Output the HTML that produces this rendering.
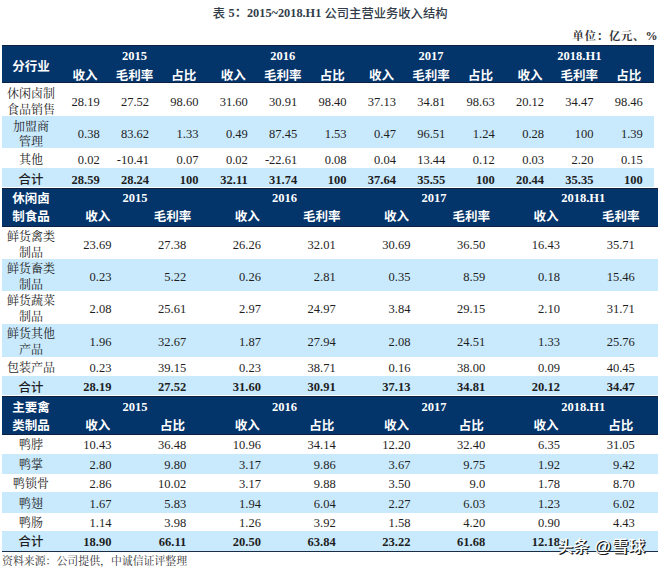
<!DOCTYPE html>
<html><head><meta charset="utf-8"><title>表5</title><style>
html,body{margin:0;padding:0;background:#fff;}
body{width:660px;height:569px;position:relative;overflow:hidden;}
.b{position:absolute;}
.t{position:absolute;white-space:nowrap;color:#1e1e1e;}
.title{font-family:"Liberation Serif","Noto Sans CJK SC",sans-serif;font-size:12.3px;font-weight:500;color:#333d4a;}
.title.tb{font-weight:bold;font-size:12.3px;}
.unit{font-family:"Liberation Serif","Noto Serif CJK SC",serif;font-size:11.3px;letter-spacing:0.8px;font-weight:bold;color:#333;}
.unit.pc{font-size:12px;letter-spacing:0;}
.hy{font-family:"Liberation Serif",serif;font-weight:bold;font-size:12.5px;color:#fff;}
.hl{font-family:"Liberation Serif","Noto Sans CJK SC",sans-serif;font-weight:bold;font-size:12.5px;color:#fff;}
.lab{font-family:"Liberation Serif", "Noto Serif CJK SC", serif;font-size:12px;font-weight:400;}
.labb{font-family:"Liberation Serif","Noto Sans CJK SC",sans-serif;font-weight:500;font-size:12.4px;}
.num{font-family:"Liberation Serif", "Noto Serif CJK SC", serif;font-size:12.5px;}
.numb{font-family:"Liberation Serif", "Noto Serif CJK SC", serif;font-size:12.5px;font-weight:bold;}
.src{font-family:"Liberation Serif", "Noto Serif CJK SC", serif;font-size:10.9px;color:#333;}
.wm{position:absolute;left:557px;top:536px;font-family:"Liberation Sans","Noto Sans CJK SC",sans-serif;font-size:16px;line-height:20px;color:#fff;white-space:nowrap;
font-weight:500;text-shadow:1px 1px 0 #1a1a1a, 1.4px 1.4px 0.4px #444;letter-spacing:0.2px;}
.wm .at{font-family:"Liberation Sans",sans-serif;font-size:17px;}
.wm .xq{letter-spacing:0.2px;font-size:16.4px;margin-left:0.5px;}
</style></head>
<body>
<div class="t title" style="left:212.80px;top:5.70px;width:20px;line-height:16px;text-align:left">表</div>
<div class="t title tb" style="left:228.50px;top:5.00px;width:100px;line-height:16px;text-align:left">5：2015~2018.H1</div>
<div class="t title" style="left:324.50px;top:5.70px;width:130px;line-height:16px;text-align:left">公司主营业务收入结构</div>
<div class="t unit" style="left:572.60px;top:27.60px;width:80px;line-height:16px;text-align:left">单位：亿元、</div>
<div class="t unit pc" style="left:637.60px;top:27.60px;width:20px;line-height:16px;text-align:right">%</div>
<div class="b" style="left:2px;top:45px;width:651.5px;height:38px;background:#03346a"></div>
<div class="b" style="left:2px;top:45px;width:651.5px;height:1px;background:#0d2142"></div>
<div class="b" style="left:2px;top:82px;width:651.5px;height:1px;background:#0d2142"></div>
<div class="t hy" style="left:74.45px;top:47.90px;width:120px;line-height:16px;text-align:center">2015</div>
<div class="t hl" style="left:25.02px;top:67.70px;width:120px;line-height:16px;text-align:center">收入</div>
<div class="t hl" style="left:74.45px;top:67.70px;width:120px;line-height:16px;text-align:center">毛利率</div>
<div class="t hl" style="left:123.88px;top:67.70px;width:120px;line-height:16px;text-align:center">占比</div>
<div class="t hy" style="left:222.75px;top:47.90px;width:120px;line-height:16px;text-align:center">2016</div>
<div class="t hl" style="left:173.32px;top:67.70px;width:120px;line-height:16px;text-align:center">收入</div>
<div class="t hl" style="left:222.75px;top:67.70px;width:120px;line-height:16px;text-align:center">毛利率</div>
<div class="t hl" style="left:272.18px;top:67.70px;width:120px;line-height:16px;text-align:center">占比</div>
<div class="t hy" style="left:371.05px;top:47.90px;width:120px;line-height:16px;text-align:center">2017</div>
<div class="t hl" style="left:321.62px;top:67.70px;width:120px;line-height:16px;text-align:center">收入</div>
<div class="t hl" style="left:371.05px;top:67.70px;width:120px;line-height:16px;text-align:center">毛利率</div>
<div class="t hl" style="left:420.48px;top:67.70px;width:120px;line-height:16px;text-align:center">占比</div>
<div class="t hy" style="left:519.35px;top:47.90px;width:120px;line-height:16px;text-align:center">2018.H1</div>
<div class="t hl" style="left:469.92px;top:67.70px;width:120px;line-height:16px;text-align:center">收入</div>
<div class="t hl" style="left:519.35px;top:67.70px;width:120px;line-height:16px;text-align:center">毛利率</div>
<div class="t hl" style="left:568.78px;top:67.70px;width:120px;line-height:16px;text-align:center">占比</div>
<div class="t hl" style="left:-29.00px;top:59.20px;width:120px;line-height:16px;text-align:center">分行业</div>
<div class="t lab" style="left:-29.00px;top:85.90px;width:120px;line-height:16px;text-align:center">休闲卤制</div>
<div class="t lab" style="left:-29.00px;top:101.70px;width:120px;line-height:16px;text-align:center">食品销售</div>
<div class="t num" style="left:39.70px;top:93.60px;width:60px;line-height:16px;text-align:right">28.19</div>
<div class="t num" style="left:89.07px;top:93.60px;width:60px;line-height:16px;text-align:right">27.52</div>
<div class="t num" style="left:138.44px;top:93.60px;width:60px;line-height:16px;text-align:right">98.60</div>
<div class="t num" style="left:187.81px;top:93.60px;width:60px;line-height:16px;text-align:right">31.60</div>
<div class="t num" style="left:237.18px;top:93.60px;width:60px;line-height:16px;text-align:right">30.91</div>
<div class="t num" style="left:286.55px;top:93.60px;width:60px;line-height:16px;text-align:right">98.40</div>
<div class="t num" style="left:335.92px;top:93.60px;width:60px;line-height:16px;text-align:right">37.13</div>
<div class="t num" style="left:385.29px;top:93.60px;width:60px;line-height:16px;text-align:right">34.81</div>
<div class="t num" style="left:434.66px;top:93.60px;width:60px;line-height:16px;text-align:right">98.63</div>
<div class="t num" style="left:484.03px;top:93.60px;width:60px;line-height:16px;text-align:right">20.12</div>
<div class="t num" style="left:533.40px;top:93.60px;width:60px;line-height:16px;text-align:right">34.47</div>
<div class="t num" style="left:582.77px;top:93.60px;width:60px;line-height:16px;text-align:right">98.46</div>
<div class="b" style="left:2px;top:116px;width:651.5px;height:32.30000000000001px;background:#c9e9fc"></div>
<div class="t lab" style="left:-29.00px;top:118.55px;width:120px;line-height:16px;text-align:center">加盟商</div>
<div class="t lab" style="left:-29.00px;top:134.35px;width:120px;line-height:16px;text-align:center">管理</div>
<div class="t num" style="left:39.70px;top:126.25px;width:60px;line-height:16px;text-align:right">0.38</div>
<div class="t num" style="left:89.07px;top:126.25px;width:60px;line-height:16px;text-align:right">83.62</div>
<div class="t num" style="left:138.44px;top:126.25px;width:60px;line-height:16px;text-align:right">1.33</div>
<div class="t num" style="left:187.81px;top:126.25px;width:60px;line-height:16px;text-align:right">0.49</div>
<div class="t num" style="left:237.18px;top:126.25px;width:60px;line-height:16px;text-align:right">87.45</div>
<div class="t num" style="left:286.55px;top:126.25px;width:60px;line-height:16px;text-align:right">1.53</div>
<div class="t num" style="left:335.92px;top:126.25px;width:60px;line-height:16px;text-align:right">0.47</div>
<div class="t num" style="left:385.29px;top:126.25px;width:60px;line-height:16px;text-align:right">96.51</div>
<div class="t num" style="left:434.66px;top:126.25px;width:60px;line-height:16px;text-align:right">1.24</div>
<div class="t num" style="left:484.03px;top:126.25px;width:60px;line-height:16px;text-align:right">0.28</div>
<div class="t num" style="left:533.40px;top:126.25px;width:60px;line-height:16px;text-align:right">100</div>
<div class="t num" style="left:582.77px;top:126.25px;width:60px;line-height:16px;text-align:right">1.39</div>
<div class="t lab" style="left:-29.00px;top:152.45px;width:120px;line-height:16px;text-align:center">其他</div>
<div class="t num" style="left:39.70px;top:152.25px;width:60px;line-height:16px;text-align:right">0.02</div>
<div class="t num" style="left:89.07px;top:152.25px;width:60px;line-height:16px;text-align:right">-10.41</div>
<div class="t num" style="left:138.44px;top:152.25px;width:60px;line-height:16px;text-align:right">0.07</div>
<div class="t num" style="left:187.81px;top:152.25px;width:60px;line-height:16px;text-align:right">0.02</div>
<div class="t num" style="left:237.18px;top:152.25px;width:60px;line-height:16px;text-align:right">-22.61</div>
<div class="t num" style="left:286.55px;top:152.25px;width:60px;line-height:16px;text-align:right">0.08</div>
<div class="t num" style="left:335.92px;top:152.25px;width:60px;line-height:16px;text-align:right">0.04</div>
<div class="t num" style="left:385.29px;top:152.25px;width:60px;line-height:16px;text-align:right">13.44</div>
<div class="t num" style="left:434.66px;top:152.25px;width:60px;line-height:16px;text-align:right">0.12</div>
<div class="t num" style="left:484.03px;top:152.25px;width:60px;line-height:16px;text-align:right">0.03</div>
<div class="t num" style="left:533.40px;top:152.25px;width:60px;line-height:16px;text-align:right">2.20</div>
<div class="t num" style="left:582.77px;top:152.25px;width:60px;line-height:16px;text-align:right">0.15</div>
<div class="b" style="left:2px;top:168px;width:651.5px;height:19px;background:#c9e9fc"></div>
<div class="t labb" style="left:-29.00px;top:171.80px;width:120px;line-height:16px;text-align:center">合计</div>
<div class="t numb" style="left:39.70px;top:171.60px;width:60px;line-height:16px;text-align:right">28.59</div>
<div class="t numb" style="left:89.07px;top:171.60px;width:60px;line-height:16px;text-align:right">28.24</div>
<div class="t numb" style="left:138.44px;top:171.60px;width:60px;line-height:16px;text-align:right">100</div>
<div class="t numb" style="left:187.81px;top:171.60px;width:60px;line-height:16px;text-align:right">32.11</div>
<div class="t numb" style="left:237.18px;top:171.60px;width:60px;line-height:16px;text-align:right">31.74</div>
<div class="t numb" style="left:286.55px;top:171.60px;width:60px;line-height:16px;text-align:right">100</div>
<div class="t numb" style="left:335.92px;top:171.60px;width:60px;line-height:16px;text-align:right">37.64</div>
<div class="t numb" style="left:385.29px;top:171.60px;width:60px;line-height:16px;text-align:right">35.55</div>
<div class="t numb" style="left:434.66px;top:171.60px;width:60px;line-height:16px;text-align:right">100</div>
<div class="t numb" style="left:484.03px;top:171.60px;width:60px;line-height:16px;text-align:right">20.44</div>
<div class="t numb" style="left:533.40px;top:171.60px;width:60px;line-height:16px;text-align:right">35.35</div>
<div class="t numb" style="left:582.77px;top:171.60px;width:60px;line-height:16px;text-align:right">100</div>
<div class="b" style="left:2px;top:188px;width:656px;height:39px;background:#03346a"></div>
<div class="b" style="left:2px;top:188px;width:656px;height:1px;background:#0d2142"></div>
<div class="b" style="left:2px;top:226px;width:656px;height:1px;background:#0d2142"></div>
<div class="t hy" style="left:75.10px;top:190.20px;width:120px;line-height:16px;text-align:center">2015</div>
<div class="t hl" style="left:37.75px;top:209.30px;width:120px;line-height:16px;text-align:center">收入</div>
<div class="t hl" style="left:112.45px;top:209.30px;width:120px;line-height:16px;text-align:center">毛利率</div>
<div class="t hy" style="left:224.50px;top:190.20px;width:120px;line-height:16px;text-align:center">2016</div>
<div class="t hl" style="left:187.15px;top:209.30px;width:120px;line-height:16px;text-align:center">收入</div>
<div class="t hl" style="left:261.85px;top:209.30px;width:120px;line-height:16px;text-align:center">毛利率</div>
<div class="t hy" style="left:373.90px;top:190.20px;width:120px;line-height:16px;text-align:center">2017</div>
<div class="t hl" style="left:336.55px;top:209.30px;width:120px;line-height:16px;text-align:center">收入</div>
<div class="t hl" style="left:411.25px;top:209.30px;width:120px;line-height:16px;text-align:center">毛利率</div>
<div class="t hy" style="left:523.30px;top:190.20px;width:120px;line-height:16px;text-align:center">2018.H1</div>
<div class="t hl" style="left:485.95px;top:209.30px;width:120px;line-height:16px;text-align:center">收入</div>
<div class="t hl" style="left:560.65px;top:209.30px;width:120px;line-height:16px;text-align:center">毛利率</div>
<div class="t hl" style="left:-29.00px;top:191.00px;width:120px;line-height:16px;text-align:center">休闲卤</div>
<div class="t hl" style="left:-29.00px;top:208.70px;width:120px;line-height:16px;text-align:center">制食品</div>
<div class="t lab" style="left:-29.00px;top:229.00px;width:120px;line-height:16px;text-align:center">鲜货禽类</div>
<div class="t lab" style="left:-29.00px;top:244.80px;width:120px;line-height:16px;text-align:center">制品</div>
<div class="t num" style="left:51.46px;top:236.70px;width:60px;line-height:16px;text-align:right">23.69</div>
<div class="t num" style="left:126.21px;top:236.70px;width:60px;line-height:16px;text-align:right">27.38</div>
<div class="t num" style="left:200.97px;top:236.70px;width:60px;line-height:16px;text-align:right">26.26</div>
<div class="t num" style="left:275.72px;top:236.70px;width:60px;line-height:16px;text-align:right">32.01</div>
<div class="t num" style="left:350.48px;top:236.70px;width:60px;line-height:16px;text-align:right">30.69</div>
<div class="t num" style="left:425.23px;top:236.70px;width:60px;line-height:16px;text-align:right">36.50</div>
<div class="t num" style="left:499.99px;top:236.70px;width:60px;line-height:16px;text-align:right">16.43</div>
<div class="t num" style="left:574.75px;top:236.70px;width:60px;line-height:16px;text-align:right">35.71</div>
<div class="b" style="left:2px;top:259.2px;width:656px;height:32.30000000000001px;background:#c9e9fc"></div>
<div class="t lab" style="left:-29.00px;top:261.25px;width:120px;line-height:16px;text-align:center">鲜货畜类</div>
<div class="t lab" style="left:-29.00px;top:277.05px;width:120px;line-height:16px;text-align:center">制品</div>
<div class="t num" style="left:51.46px;top:268.95px;width:60px;line-height:16px;text-align:right">0.23</div>
<div class="t num" style="left:126.21px;top:268.95px;width:60px;line-height:16px;text-align:right">5.22</div>
<div class="t num" style="left:200.97px;top:268.95px;width:60px;line-height:16px;text-align:right">0.26</div>
<div class="t num" style="left:275.72px;top:268.95px;width:60px;line-height:16px;text-align:right">2.81</div>
<div class="t num" style="left:350.48px;top:268.95px;width:60px;line-height:16px;text-align:right">0.35</div>
<div class="t num" style="left:425.23px;top:268.95px;width:60px;line-height:16px;text-align:right">8.59</div>
<div class="t num" style="left:499.99px;top:268.95px;width:60px;line-height:16px;text-align:right">0.18</div>
<div class="t num" style="left:574.75px;top:268.95px;width:60px;line-height:16px;text-align:right">15.46</div>
<div class="t lab" style="left:-29.00px;top:293.40px;width:120px;line-height:16px;text-align:center">鲜货蔬菜</div>
<div class="t lab" style="left:-29.00px;top:309.20px;width:120px;line-height:16px;text-align:center">制品</div>
<div class="t num" style="left:51.46px;top:301.10px;width:60px;line-height:16px;text-align:right">2.08</div>
<div class="t num" style="left:126.21px;top:301.10px;width:60px;line-height:16px;text-align:right">25.61</div>
<div class="t num" style="left:200.97px;top:301.10px;width:60px;line-height:16px;text-align:right">2.97</div>
<div class="t num" style="left:275.72px;top:301.10px;width:60px;line-height:16px;text-align:right">24.97</div>
<div class="t num" style="left:350.48px;top:301.10px;width:60px;line-height:16px;text-align:right">3.84</div>
<div class="t num" style="left:425.23px;top:301.10px;width:60px;line-height:16px;text-align:right">29.15</div>
<div class="t num" style="left:499.99px;top:301.10px;width:60px;line-height:16px;text-align:right">2.10</div>
<div class="t num" style="left:574.75px;top:301.10px;width:60px;line-height:16px;text-align:right">31.71</div>
<div class="b" style="left:2px;top:323.5px;width:656px;height:33.5px;background:#c9e9fc"></div>
<div class="t lab" style="left:-29.00px;top:326.15px;width:120px;line-height:16px;text-align:center">鲜货其他</div>
<div class="t lab" style="left:-29.00px;top:341.95px;width:120px;line-height:16px;text-align:center">产品</div>
<div class="t num" style="left:51.46px;top:333.85px;width:60px;line-height:16px;text-align:right">1.96</div>
<div class="t num" style="left:126.21px;top:333.85px;width:60px;line-height:16px;text-align:right">32.67</div>
<div class="t num" style="left:200.97px;top:333.85px;width:60px;line-height:16px;text-align:right">1.87</div>
<div class="t num" style="left:275.72px;top:333.85px;width:60px;line-height:16px;text-align:right">27.94</div>
<div class="t num" style="left:350.48px;top:333.85px;width:60px;line-height:16px;text-align:right">2.08</div>
<div class="t num" style="left:425.23px;top:333.85px;width:60px;line-height:16px;text-align:right">24.51</div>
<div class="t num" style="left:499.99px;top:333.85px;width:60px;line-height:16px;text-align:right">1.33</div>
<div class="t num" style="left:574.75px;top:333.85px;width:60px;line-height:16px;text-align:right">25.76</div>
<div class="t lab" style="left:-29.00px;top:360.40px;width:120px;line-height:16px;text-align:center">包装产品</div>
<div class="t num" style="left:51.46px;top:360.20px;width:60px;line-height:16px;text-align:right">0.23</div>
<div class="t num" style="left:126.21px;top:360.20px;width:60px;line-height:16px;text-align:right">39.15</div>
<div class="t num" style="left:200.97px;top:360.20px;width:60px;line-height:16px;text-align:right">0.23</div>
<div class="t num" style="left:275.72px;top:360.20px;width:60px;line-height:16px;text-align:right">38.71</div>
<div class="t num" style="left:350.48px;top:360.20px;width:60px;line-height:16px;text-align:right">0.16</div>
<div class="t num" style="left:425.23px;top:360.20px;width:60px;line-height:16px;text-align:right">38.00</div>
<div class="t num" style="left:499.99px;top:360.20px;width:60px;line-height:16px;text-align:right">0.09</div>
<div class="t num" style="left:574.75px;top:360.20px;width:60px;line-height:16px;text-align:right">40.45</div>
<div class="b" style="left:2px;top:376.2px;width:656px;height:19.100000000000023px;background:#c9e9fc"></div>
<div class="t labb" style="left:-29.00px;top:379.55px;width:120px;line-height:16px;text-align:center">合计</div>
<div class="t numb" style="left:51.46px;top:379.35px;width:60px;line-height:16px;text-align:right">28.19</div>
<div class="t numb" style="left:126.21px;top:379.35px;width:60px;line-height:16px;text-align:right">27.52</div>
<div class="t numb" style="left:200.97px;top:379.35px;width:60px;line-height:16px;text-align:right">31.60</div>
<div class="t numb" style="left:275.72px;top:379.35px;width:60px;line-height:16px;text-align:right">30.91</div>
<div class="t numb" style="left:350.48px;top:379.35px;width:60px;line-height:16px;text-align:right">37.13</div>
<div class="t numb" style="left:425.23px;top:379.35px;width:60px;line-height:16px;text-align:right">34.81</div>
<div class="t numb" style="left:499.99px;top:379.35px;width:60px;line-height:16px;text-align:right">20.12</div>
<div class="t numb" style="left:574.75px;top:379.35px;width:60px;line-height:16px;text-align:right">34.47</div>
<div class="b" style="left:2px;top:396px;width:656px;height:39px;background:#03346a"></div>
<div class="b" style="left:2px;top:396px;width:656px;height:1px;background:#0d2142"></div>
<div class="b" style="left:2px;top:434px;width:656px;height:1px;background:#0d2142"></div>
<div class="t hy" style="left:75.10px;top:398.90px;width:120px;line-height:16px;text-align:center">2015</div>
<div class="t hl" style="left:37.75px;top:418.00px;width:120px;line-height:16px;text-align:center">收入</div>
<div class="t hl" style="left:112.45px;top:418.00px;width:120px;line-height:16px;text-align:center">占比</div>
<div class="t hy" style="left:224.50px;top:398.90px;width:120px;line-height:16px;text-align:center">2016</div>
<div class="t hl" style="left:187.15px;top:418.00px;width:120px;line-height:16px;text-align:center">收入</div>
<div class="t hl" style="left:261.85px;top:418.00px;width:120px;line-height:16px;text-align:center">占比</div>
<div class="t hy" style="left:373.90px;top:398.90px;width:120px;line-height:16px;text-align:center">2017</div>
<div class="t hl" style="left:336.55px;top:418.00px;width:120px;line-height:16px;text-align:center">收入</div>
<div class="t hl" style="left:411.25px;top:418.00px;width:120px;line-height:16px;text-align:center">占比</div>
<div class="t hy" style="left:523.30px;top:398.90px;width:120px;line-height:16px;text-align:center">2018.H1</div>
<div class="t hl" style="left:485.95px;top:418.00px;width:120px;line-height:16px;text-align:center">收入</div>
<div class="t hl" style="left:560.65px;top:418.00px;width:120px;line-height:16px;text-align:center">占比</div>
<div class="t hl" style="left:-29.00px;top:400.00px;width:120px;line-height:16px;text-align:center">主要禽</div>
<div class="t hl" style="left:-29.00px;top:417.50px;width:120px;line-height:16px;text-align:center">类制品</div>
<div class="t lab" style="left:-29.00px;top:437.45px;width:120px;line-height:16px;text-align:center">鸭脖</div>
<div class="t num" style="left:51.46px;top:437.25px;width:60px;line-height:16px;text-align:right">10.43</div>
<div class="t num" style="left:126.21px;top:437.25px;width:60px;line-height:16px;text-align:right">36.48</div>
<div class="t num" style="left:200.97px;top:437.25px;width:60px;line-height:16px;text-align:right">10.96</div>
<div class="t num" style="left:275.72px;top:437.25px;width:60px;line-height:16px;text-align:right">34.14</div>
<div class="t num" style="left:350.48px;top:437.25px;width:60px;line-height:16px;text-align:right">12.20</div>
<div class="t num" style="left:425.23px;top:437.25px;width:60px;line-height:16px;text-align:right">32.40</div>
<div class="t num" style="left:499.99px;top:437.25px;width:60px;line-height:16px;text-align:right">6.35</div>
<div class="t num" style="left:574.75px;top:437.25px;width:60px;line-height:16px;text-align:right">31.05</div>
<div class="b" style="left:2px;top:453.5px;width:656px;height:20.5px;background:#c9e9fc"></div>
<div class="t lab" style="left:-29.00px;top:456.95px;width:120px;line-height:16px;text-align:center">鸭掌</div>
<div class="t num" style="left:51.46px;top:456.75px;width:60px;line-height:16px;text-align:right">2.80</div>
<div class="t num" style="left:126.21px;top:456.75px;width:60px;line-height:16px;text-align:right">9.80</div>
<div class="t num" style="left:200.97px;top:456.75px;width:60px;line-height:16px;text-align:right">3.17</div>
<div class="t num" style="left:275.72px;top:456.75px;width:60px;line-height:16px;text-align:right">9.86</div>
<div class="t num" style="left:350.48px;top:456.75px;width:60px;line-height:16px;text-align:right">3.67</div>
<div class="t num" style="left:425.23px;top:456.75px;width:60px;line-height:16px;text-align:right">9.75</div>
<div class="t num" style="left:499.99px;top:456.75px;width:60px;line-height:16px;text-align:right">1.92</div>
<div class="t num" style="left:574.75px;top:456.75px;width:60px;line-height:16px;text-align:right">9.42</div>
<div class="t lab" style="left:-29.00px;top:476.40px;width:120px;line-height:16px;text-align:center">鸭锁骨</div>
<div class="t num" style="left:51.46px;top:476.20px;width:60px;line-height:16px;text-align:right">2.86</div>
<div class="t num" style="left:126.21px;top:476.20px;width:60px;line-height:16px;text-align:right">10.02</div>
<div class="t num" style="left:200.97px;top:476.20px;width:60px;line-height:16px;text-align:right">3.17</div>
<div class="t num" style="left:275.72px;top:476.20px;width:60px;line-height:16px;text-align:right">9.88</div>
<div class="t num" style="left:350.48px;top:476.20px;width:60px;line-height:16px;text-align:right">3.50</div>
<div class="t num" style="left:425.23px;top:476.20px;width:60px;line-height:16px;text-align:right">9.0</div>
<div class="t num" style="left:499.99px;top:476.20px;width:60px;line-height:16px;text-align:right">1.78</div>
<div class="t num" style="left:574.75px;top:476.20px;width:60px;line-height:16px;text-align:right">8.70</div>
<div class="b" style="left:2px;top:492.4px;width:656px;height:20.200000000000045px;background:#c9e9fc"></div>
<div class="t lab" style="left:-29.00px;top:495.70px;width:120px;line-height:16px;text-align:center">鸭翅</div>
<div class="t num" style="left:51.46px;top:495.50px;width:60px;line-height:16px;text-align:right">1.67</div>
<div class="t num" style="left:126.21px;top:495.50px;width:60px;line-height:16px;text-align:right">5.83</div>
<div class="t num" style="left:200.97px;top:495.50px;width:60px;line-height:16px;text-align:right">1.94</div>
<div class="t num" style="left:275.72px;top:495.50px;width:60px;line-height:16px;text-align:right">6.04</div>
<div class="t num" style="left:350.48px;top:495.50px;width:60px;line-height:16px;text-align:right">2.27</div>
<div class="t num" style="left:425.23px;top:495.50px;width:60px;line-height:16px;text-align:right">6.03</div>
<div class="t num" style="left:499.99px;top:495.50px;width:60px;line-height:16px;text-align:right">1.23</div>
<div class="t num" style="left:574.75px;top:495.50px;width:60px;line-height:16px;text-align:right">6.02</div>
<div class="t lab" style="left:-29.00px;top:515.20px;width:120px;line-height:16px;text-align:center">鸭肠</div>
<div class="t num" style="left:51.46px;top:515.00px;width:60px;line-height:16px;text-align:right">1.14</div>
<div class="t num" style="left:126.21px;top:515.00px;width:60px;line-height:16px;text-align:right">3.98</div>
<div class="t num" style="left:200.97px;top:515.00px;width:60px;line-height:16px;text-align:right">1.26</div>
<div class="t num" style="left:275.72px;top:515.00px;width:60px;line-height:16px;text-align:right">3.92</div>
<div class="t num" style="left:350.48px;top:515.00px;width:60px;line-height:16px;text-align:right">1.58</div>
<div class="t num" style="left:425.23px;top:515.00px;width:60px;line-height:16px;text-align:right">4.20</div>
<div class="t num" style="left:499.99px;top:515.00px;width:60px;line-height:16px;text-align:right">0.90</div>
<div class="t num" style="left:574.75px;top:515.00px;width:60px;line-height:16px;text-align:right">4.43</div>
<div class="b" style="left:2px;top:531.4px;width:656px;height:19.600000000000023px;background:#c9e9fc"></div>
<div class="t labb" style="left:-29.00px;top:534.40px;width:120px;line-height:16px;text-align:center">合计</div>
<div class="t numb" style="left:51.46px;top:534.20px;width:60px;line-height:16px;text-align:right">18.90</div>
<div class="t numb" style="left:126.21px;top:534.20px;width:60px;line-height:16px;text-align:right">66.11</div>
<div class="t numb" style="left:200.97px;top:534.20px;width:60px;line-height:16px;text-align:right">20.50</div>
<div class="t numb" style="left:275.72px;top:534.20px;width:60px;line-height:16px;text-align:right">63.84</div>
<div class="t numb" style="left:350.48px;top:534.20px;width:60px;line-height:16px;text-align:right">23.22</div>
<div class="t numb" style="left:425.23px;top:534.20px;width:60px;line-height:16px;text-align:right">61.68</div>
<div class="t numb" style="left:499.99px;top:534.20px;width:60px;line-height:16px;text-align:right">12.18</div>
<div class="b" style="left:2px;top:551px;width:656px;height:1px;background:#1d2d45"></div>
<div class="t src" style="left:2.00px;top:552.50px;width:300px;line-height:16px;text-align:left">资料来源：公司提供，中诚信证评整理</div>
<div class="wm"><span>头条</span> <span class="at">@</span><span class="xq">雪球</span></div>
</body></html>
